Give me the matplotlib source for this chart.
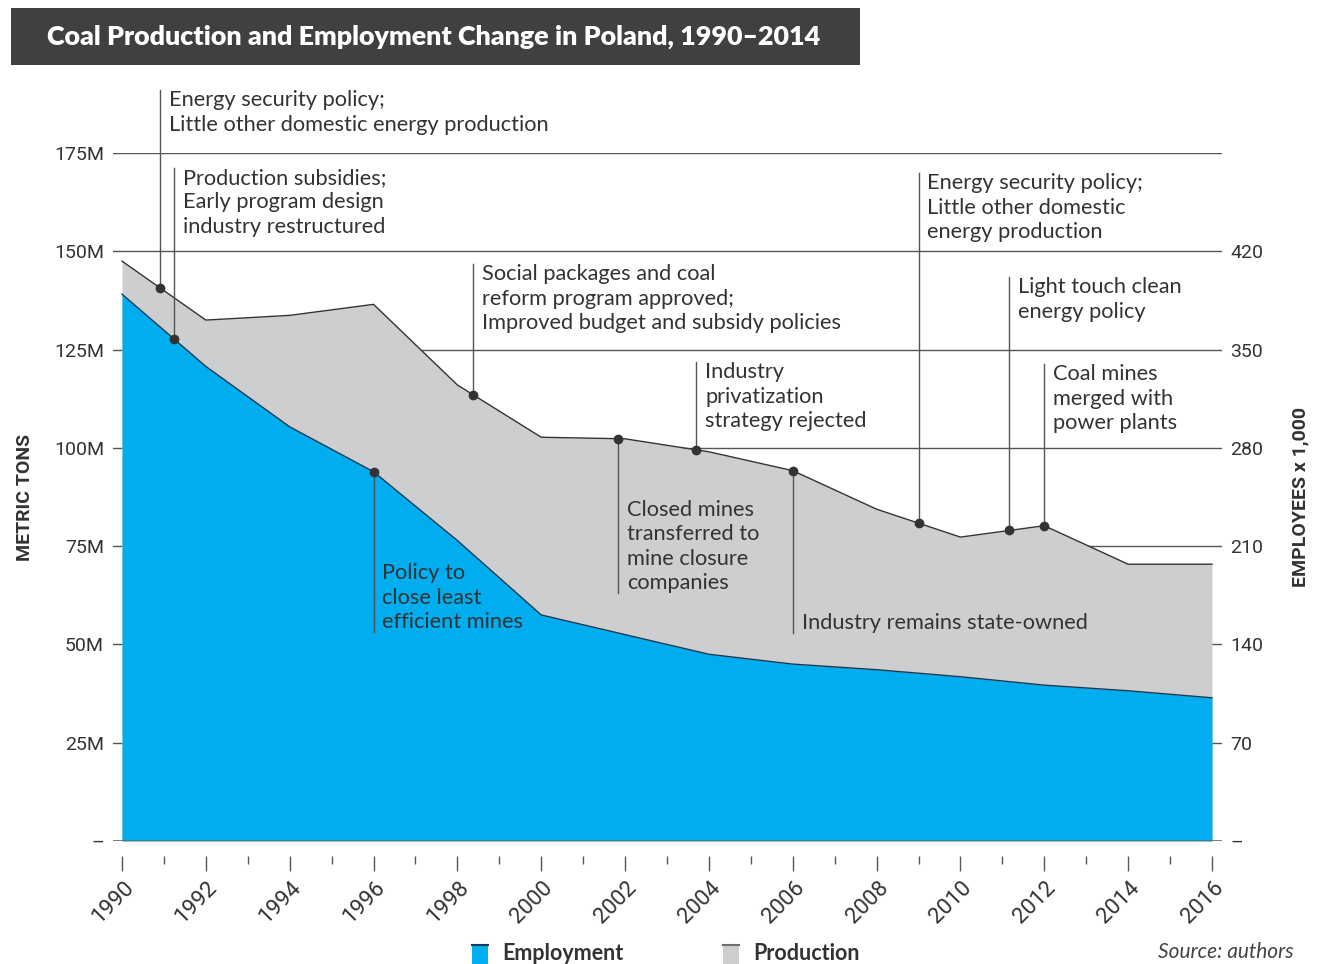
import numpy as np
import matplotlib.pyplot as plt
from matplotlib.patches import Rectangle
from matplotlib.lines import Line2D
from matplotlib.transforms import ScaledTranslation

plt.rcParams['font.family'] = ['Lato', 'DejaVu Sans']

# data (tons in millions, employees in thousands)
years = [1990, 1992, 1994, 1996, 1998, 2000, 2002, 2004, 2006, 2008, 2010, 2012, 2014, 2016]
production_mt = [147.5, 132.5, 133.7, 136.5, 116.0, 102.7, 102.3, 99.0, 94.2, 84.4, 77.3, 80.2, 70.4, 70.4]
employees_k = [389.5, 338.0, 295.0, 263.0, 214.0, 161.0, 147.0, 133.0, 126.0, 122.0, 117.0, 111.0, 107.0, 102.0]

left_ticks = [0, 25, 50, 75, 100, 125, 150, 175]
left_labels = ['–', '25M', '50M', '75M', '100M', '125M', '150M', '175M']
right_ticks = [0, 70, 140, 210, 280, 350, 420]
right_labels = ['–', '70', '140', '210', '280', '350', '420']
year_ticks = list(range(1990, 2017, 2))

# (year, series the dot sits on, end of leader line in tons, text)
notes = [
    (1990.9, 'prod', 190.9, 'Energy security policy;\nLittle other domestic energy production'),
    (1991.24, 'emp', 171.2, 'Production subsidies;\nEarly program design\nindustry restructured'),
    (1998.37, 'prod', 146.7, 'Social packages and coal\nreform program approved;\nImproved budget and subsidy policies'),
    (2003.7, 'prod', 121.8, 'Industry\nprivatization\nstrategy rejected'),
    (2001.83, 'prod', 63.0, 'Closed mines\ntransferred to\nmine closure\ncompanies'),
    (2006.0, 'prod', 52.9, 'Industry remains state-owned'),
    (1996.0, 'emp', 53.1, 'Policy to\nclose least\nefficient mines'),
    (2009.0, 'prod', 169.8, 'Energy security policy;\nLittle other domestic\nenergy production'),
    (2011.16, 'prod', 143.4, 'Light touch clean\nenergy policy'),
    (2012.0, 'prod', 121.3, 'Coal mines\nmerged with\npower plants'),
]

W, H = 1318, 964
ratio = 490 / 175  # employees per ton on the two axes

BLUE = '#00adef'
GRAY = '#cdced0'
DARK = '#333333'


def fx(px):
    return px / W


def fy(py):
    return 1 - py / H


fig = plt.figure(figsize=(W / 100, H / 100), dpi=100)
ax = fig.add_axes([fx(113), fy(841), fx(1222) - fx(113), fy(153) - fy(841)])
ax2 = ax.twinx()

yrs = np.array(years, dtype=float)
prod = np.array(production_mt)
emp = np.array(employees_k) / ratio

for v in left_ticks[1:]:
    ax.axhline(v, color='#555555', lw=1, zorder=0)

ax.fill_between(yrs, 0, prod, color=GRAY, lw=0, zorder=1)
ax.plot(yrs, prod, color=DARK, lw=1, zorder=2)
ax.fill_between(yrs, 0, emp, color=BLUE, lw=0, zorder=3)
ax.plot(yrs, emp, color='#1b3a55', lw=1, zorder=4)
ax.axhline(0, color='#6d6e70', lw=2, zorder=5)

for x, s, end, txt in notes:
    y0 = np.interp(x, yrs, prod if s == 'prod' else emp)
    ax.plot([x, x], [y0, end], color='#555555', lw=1, zorder=6, clip_on=False)
    ax.plot(x, y0, 'o', color=DARK, ms=6, zorder=7, clip_on=False)
    va = 'top' if end > y0 else 'bottom'
    ax.text(x + 0.21, end, txt, ha='left', va=va, fontsize=15.7, color=DARK,
            linespacing=1.28, zorder=8, clip_on=False)

ax.set_xlim(1990 - 9 / 41.92, 2016 + 10 / 41.92)
ax.set_ylim(0, 175)
ax2.set_ylim(0, 490)

ax.set_yticks(left_ticks)
ax.set_yticklabels(left_labels)
ax2.set_yticks(right_ticks)
ax2.set_yticklabels(right_labels)
ax.tick_params(axis='y', length=0, pad=6.5, labelsize=14, labelcolor=DARK)
ax2.tick_params(axis='y', length=0, pad=6, labelsize=14, labelcolor=DARK)
for t in ax.get_yticklabels() + ax2.get_yticklabels():
    t.set_fontfamily('Roboto')

# x ticks: marks from the axis, labels drawn rotated just below them
ax.set_xticks(year_ticks)
ax.set_xticks(np.arange(1991, 2016, 2), minor=True)
ax.tick_params(axis='x', which='major', length=11, width=1, color='#555555', labelbottom=False)
ax.tick_params(axis='x', which='minor', length=6, width=1, color='#555555')
lab_tr = ax.get_xaxis_transform() + ScaledTranslation(1 / 100, -36 / 100, fig.dpi_scale_trans)
for yr in year_ticks:
    ax.text(yr, 0, str(yr), transform=lab_tr, rotation=45, rotation_mode='anchor',
            ha='right', va='top', fontsize=16, color=DARK, fontfamily='Roboto', clip_on=False)

for a in (ax, ax2):
    for sp in a.spines.values():
        sp.set_visible(False)
ax.spines['bottom'].set_position(('outward', 11))

ax.set_ylabel('METRIC TONS', fontsize=14, fontweight='bold', color=DARK,
              fontfamily='Roboto', labelpad=14)
ax2.set_ylabel('EMPLOYEES x 1,000', fontsize=14, fontweight='bold', color=DARK,
               fontfamily='Roboto', rotation=90, labelpad=20)

# title bar
fig.add_artist(Rectangle((fx(11), fy(65)), fx(860) - fx(11), fy(8) - fy(65),
                         transform=fig.transFigure, color='#404042', lw=0))
fig.text(fx(47), fy(37), 'Coal Production and Employment Change in Poland, 1990–2014',
         color='white', fontsize=19.4, fontweight='heavy', va='center', ha='left')

# legend
for x0, c, edge, lab in [(472, BLUE, '#1b3a55', 'Employment'), (723, GRAY, '#6d6e70', 'Production')]:
    fig.add_artist(Rectangle((fx(x0), fy(964)), fx(16), 20 / H, transform=fig.transFigure,
                             color=c, lw=0))
    fig.add_artist(Line2D([fx(x0), fx(x0 + 16)], [fy(945), fy(945)], transform=fig.transFigure,
                          color=edge, lw=1.5))
    fig.text(fx(x0 + 30), fy(953), lab, fontsize=15.5, fontweight='bold', color=DARK,
             va='center', ha='left')

fig.text(fx(1158), fy(952), 'Source: authors', fontsize=15, style='italic', color='#444444',
         va='center', ha='left')

fig.savefig('out.png', dpi=100)
